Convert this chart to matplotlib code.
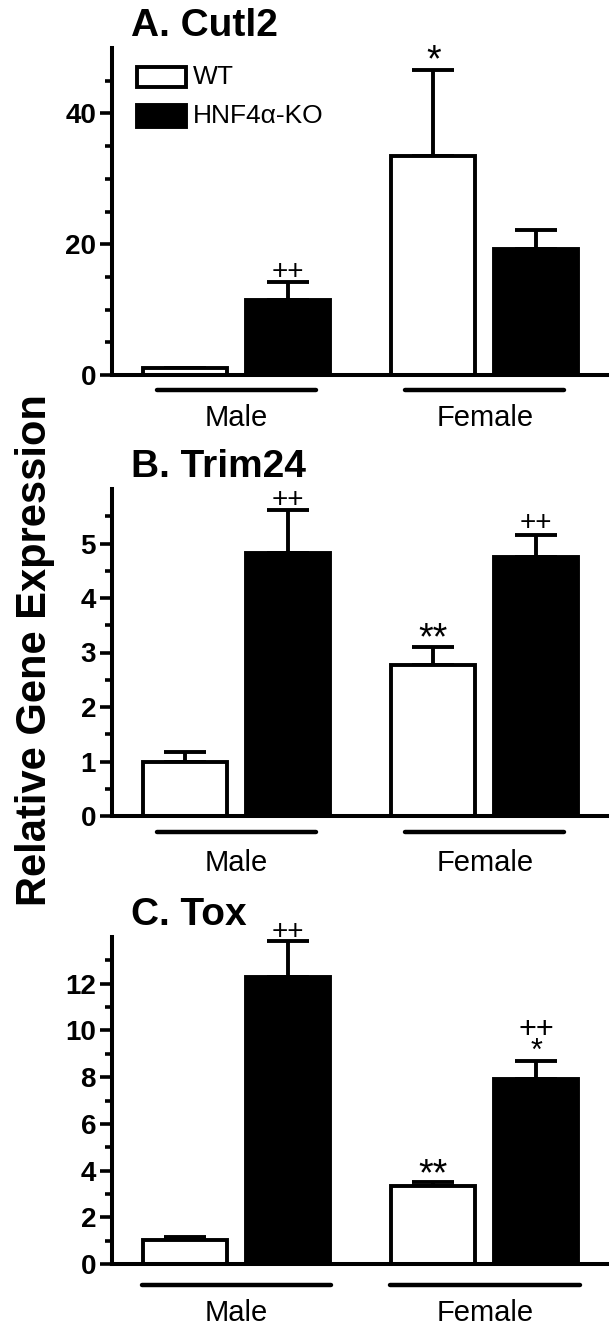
import matplotlib
matplotlib.use("Agg")
import matplotlib.pyplot as plt
import numpy as np
from matplotlib.patches import Rectangle
from matplotlib.transforms import blended_transform_factory, ScaledTranslation

plt.rcParams["font.family"] = ["Liberation Sans", "DejaVu Sans"]

# DATA
groups = ["Male", "Female"]
series = ["WT", "HNF4\u03b1-KO"]

cutl2_wt = [1.07, 33.5]
cutl2_wt_err = [0.0, 13.1]
cutl2_ko = [11.4, 19.2]
cutl2_ko_err = [2.8, 2.9]

trim24_wt = [1.0, 2.77]
trim24_wt_err = [0.17, 0.34]
trim24_ko = [4.82, 4.75]
trim24_ko_err = [0.79, 0.40]

tox_wt = [1.03, 3.32]
tox_wt_err = [0.11, 0.20]
tox_ko = [12.29, 7.9]
tox_ko_err = [1.53, 0.78]

# significance marks: (bar index, text, y)
cutl2_marks = [(2, "*", 47.9), (1, "++", 15.7)]
trim24_marks = [(1, "++", 5.80), (3, "++", 5.38), (2, "**", 3.24)]
tox_marks = [(1, "++", 14.2), (3, "++\n*", 9.55), (2, "**", 3.8)]

W, H = 616, 1341
fig = plt.figure(figsize=(W / 100, H / 100), dpi=100)

xpos = np.array([0.0, 1.0, 2.41, 3.41])
bw = 0.82
LW = 2.8


def px_axes(l, r, top, bottom):
    return fig.add_axes([l / W, 1 - bottom / H, (r - l) / W, (bottom - top) / H])


def panel(ax, title, wt, wt_err, ko, ko_err, ymax, major, minor, marks,
          gline_off, gline_half, label_off):
    vals = [wt[0], ko[0], wt[1], ko[1]]
    errs = [wt_err[0], ko_err[0], wt_err[1], ko_err[1]]
    colors = ["white", "black", "white", "black"]
    ax.errorbar(xpos, vals, yerr=[np.zeros(4), errs], fmt="none", ecolor="black",
                elinewidth=LW, capsize=15, capthick=LW, zorder=1, clip_on=False)
    ax.bar(xpos, vals, width=bw, color=colors, edgecolor="black",
           linewidth=LW, zorder=2)

    ax.set_xlim(-0.709, 4.097)
    ax.set_ylim(0, ymax)
    ax.set_xticks([])
    ax.set_yticks(major)
    ax.set_yticks(minor, minor=True)
    ax.tick_params(axis="y", which="major", length=8.5, width=2.6, pad=3,
                   labelsize=20)
    ax.tick_params(axis="y", which="minor", length=5, width=2.6)
    for lab in ax.get_yticklabels():
        lab.set_fontweight("bold")
    for s in ["top", "right"]:
        ax.spines[s].set_visible(False)
    for s in ["left", "bottom"]:
        ax.spines[s].set_linewidth(2.9)

    title_tr = blended_transform_factory(ax.transData, ax.transAxes) + \
        ScaledTranslation(0, 4 / 100, fig.dpi_scale_trans)
    ax.text(-0.52, 1.0, title, transform=title_tr,
            fontsize=28, fontweight="bold", ha="left", va="bottom")

    for i, txt, y in marks:
        if "\n" in txt:
            ax.text(xpos[i], y, txt, ha="center", va="center", fontsize=22,
                    linespacing=0.62, clip_on=False)
            continue
        fs = 27 if "*" in txt else 20
        ax.text(xpos[i], y, txt, ha="center", va="center", fontsize=fs,
                clip_on=False)

    # group lines and labels below the axis
    centers = [(xpos[0] + xpos[1]) / 2, (xpos[2] + xpos[3]) / 2]
    trans = blended_transform_factory(ax.transData, ax.transAxes)
    line_tr = trans + ScaledTranslation(0, -gline_off / 100, fig.dpi_scale_trans)
    lab_tr = trans + ScaledTranslation(0, -label_off / 100, fig.dpi_scale_trans)
    for c, g in zip(centers, groups):
        ax.plot([c - gline_half, c + gline_half], [0, 0], color="black", lw=3.2,
                solid_capstyle="round", transform=line_tr, clip_on=False)
        ax.text(c, 0, g, transform=lab_tr, ha="center", va="center", fontsize=21)


axA = px_axes(112, 607, 48, 375)
panel(axA, "A. Cutl2", cutl2_wt, cutl2_wt_err, cutl2_ko, cutl2_ko_err, 50,
      [0, 20, 40], [5, 10, 15, 25, 30, 35, 45], cutl2_marks, 15, 0.77, 43)

# legend
for (y0, y1), fc, lab in zip([(44.0, 47.1), (37.9, 41.3)], ["white", "black"], series):
    axA.add_patch(Rectangle((-0.466, y0), 0.476, y1 - y0, facecolor=fc,
                            edgecolor="black", linewidth=LW, clip_on=False))
    axA.text(0.078, (y0 + y1) / 2, lab, ha="left", va="center", fontsize=19)

axB = px_axes(112, 607, 489, 816)
panel(axB, "B. Trim24", trim24_wt, trim24_wt_err, trim24_ko, trim24_ko_err, 6,
      [0, 1, 2, 3, 4, 5], [0.5, 1.5, 2.5, 3.5, 4.5, 5.5], trim24_marks, 16, 0.77, 47)

axC = px_axes(112, 607, 937, 1264)
panel(axC, "C. Tox", tox_wt, tox_wt_err, tox_ko, tox_ko_err, 14,
      [0, 2, 4, 6, 8, 10, 12], [1, 3, 5, 7, 9, 11, 13], tox_marks, 21, 0.92, 49)

fig.text(35 / W, 1 - 650 / H, "Relative Gene Expression", rotation=90,
         ha="center", va="center", fontsize=30, fontweight="bold")

fig.savefig("out.png", dpi=100)
